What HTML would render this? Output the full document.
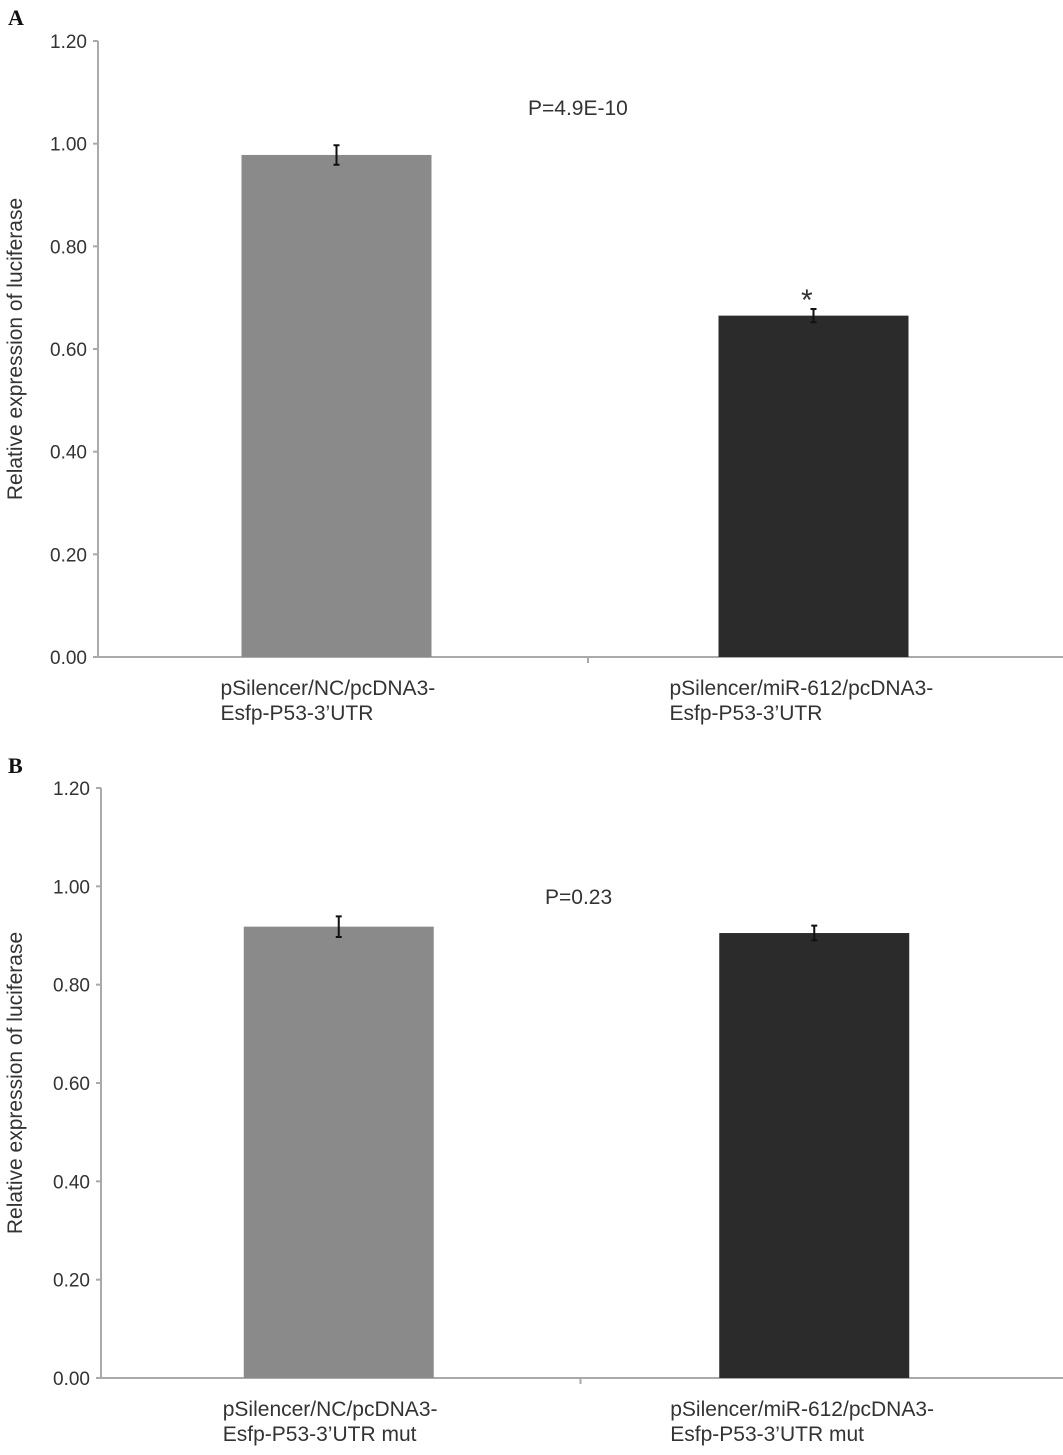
<!DOCTYPE html>
<html><head><meta charset="utf-8"><style>
body{margin:0;background:#fff;}
svg text{font-family:"Liberation Sans",Arial,sans-serif;fill:#333;}
</style></head><body>
<svg id="chart" width="1063" height="1450" viewBox="0 0 1063 1450" xmlns="http://www.w3.org/2000/svg">
<text x="8" y="25" font-weight="bold" font-size="22" style="font-family:'Liberation Serif',serif;fill:#111">A</text>
<text x="8" y="773" font-weight="bold" font-size="22" style="font-family:'Liberation Serif',serif;fill:#111">B</text>
</svg>
<script>
const ticks=[0,0.2,0.4,0.6,0.8,1.0,1.2];
const tickLabels=["0.00","0.20","0.40","0.60","0.80","1.00","1.20"];
const catsA=[["pSilencer/NC/pcDNA3-","Esfp-P53-3’UTR"],["pSilencer/miR-612/pcDNA3-","Esfp-P53-3’UTR"]];
const valsA=[0.978,0.665];
const errA=[0.019,0.013];
const catsB=[["pSilencer/NC/pcDNA3-","Esfp-P53-3’UTR mut"],["pSilencer/miR-612/pcDNA3-","Esfp-P53-3’UTR mut"]];
const valsB=[0.918,0.905];
const errB=[0.021,0.015];
const colors=["#8a8a8a","#2b2b2b"];
const NS="http://www.w3.org/2000/svg";
const svg=document.getElementById('chart');
function mk(t,a,p){const e=document.createElementNS(NS,t);for(const k in a)e.setAttribute(k,a[k]);(p||svg).appendChild(e);return e;}
function panel(cfg){
 const g=mk('g',{});
 
 
 const y=v=>cfg.y0-(v/1.2)*(cfg.y0-cfg.y1);
 const x0=cfg.x0,x1=1052,mid=(x0+x1)/2+(cfg.midOff||0);
 const axis=mk('line',{x1:x0,y1:cfg.y1,x2:x0,y2:cfg.y0,stroke:'#aaa','stroke-width':2},g);
 
 ticks.forEach((t,i)=>{
  mk('line',{x1:x0-5,y1:y(t),x2:x0,y2:y(t),stroke:'#aaa','stroke-width':2},g);
  const tl=mk('text',{x:x0-11,y:y(t)+7,'text-anchor':'end','font-size':19},g);
  tl.textContent=tickLabels[i];
  
  
 });
 const xa=mk('line',{x1:x0,y1:cfg.y0,x2:1078,y2:cfg.y0,stroke:'#aaa','stroke-width':2},g);
 
 mk('line',{x1:mid,y1:cfg.y0,x2:mid,y2:cfg.y0+6,stroke:'#aaa','stroke-width':2},g);
 cfg.vals.forEach((v,i)=>{
  const cx=x0+(x1-x0)*(i*2+1)/4;
  const b=mk('rect',{x:cx-95,y:y(v),width:190,height:cfg.y0-y(v),fill:colors[i]},g);
  
  
  const e=cfg.err[i];
  const eb=mk('path',{d:`M${cx},${y(v+e)}V${y(v-e)}M${cx-3},${y(v+e)}h6M${cx-3},${y(v-e)}h6`,stroke:'#111','stroke-width':2,fill:'none'},g);
  
  
  cfg.cats[i].forEach((l,j)=>{
   const t=mk('text',{x:cx-(i?144:116),y:cfg.y0+38+j*25,'font-size':21},g);
   t.textContent=l;
   
   
  });
 });
 const yt=mk('text',{x:0,y:0,'font-size':21,'text-anchor':'middle',transform:`translate(22,${(cfg.y0+cfg.y1)/2}) rotate(-90)`},g);
 yt.textContent='Relative expression of luciferase';
 
 
 const pt=mk('text',{x:cfg.px,y:cfg.py,'font-size':21},g);
 pt.textContent=cfg.p;
 
 
 if(cfg.star){const s=mk('text',{x:cfg.star[0],y:cfg.star[1],'font-size':30},g);s.textContent='*';
  
  }
}
panel({name:'panel-a',x0:98,y0:657,y1:41,vals:valsA,err:errA,cats:catsA,p:'P=4.9E-10',px:528,py:115,star:[801,310],midOff:13});
panel({name:'panel-b',x0:101,y0:1378,y1:788,vals:valsB,err:errB,cats:catsB,p:'P=0.23',px:545,py:904,midOff:4});
</script>
</body></html>
